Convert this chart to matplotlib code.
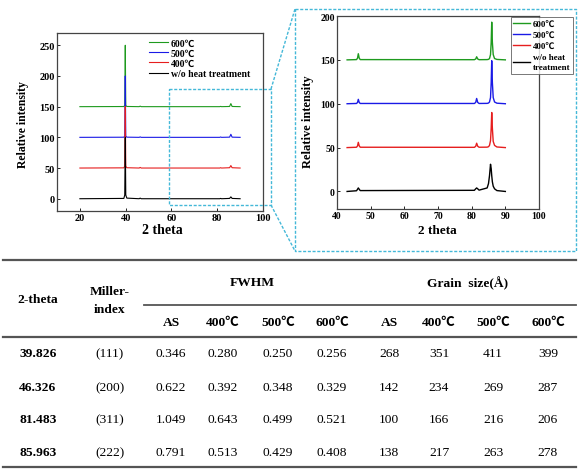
import matplotlib
matplotlib.use("Agg")
import matplotlib.pyplot as plt
from matplotlib.lines import Line2D

plt.rcParams['font.family'] = ['Liberation Serif', 'Noto Sans CJK SC', 'DejaVu Sans']
plt.rcParams['mathtext.fontset'] = 'stix'

# ---------------- data ----------------
labels = ['600℃', '500℃', '400℃', 'w/o heat treatment']
labels_zoom = ['600℃', '500℃', '400℃', 'w/o heat\ntreatment']
colors = ['#1e9a1e', '#1a1ae6', '#e61e1e', '#000000']

# full-range pattern
x_full = [20, 39.2, 39.6, 39.83, 40.05, 40.5, 45.9, 46.33, 46.8,
          81.1, 81.48, 81.9, 85.4, 85.96, 86.5, 90]
y_600_full = [150, 150.2, 152, 250, 152, 150.3, 150, 150.8, 150,
              150, 150.4, 150, 150.3, 155, 150.3, 150]
y_500_full = [100, 100.2, 102, 200, 102, 100.3, 100, 100.7, 100,
              100, 100.6, 100, 100.3, 105, 100.3, 100]
y_400_full = [50, 50.3, 53, 150, 53, 50.5, 50, 51, 50,
              50, 50.5, 50, 50.5, 54, 50.5, 50]
y_as_full = [0, 0.5, 6, 100, 6, 1, 0, 1, 0,
             0, 0.5, 0, 0.5, 3, 0.5, 0]

# zoomed pattern 43-90 deg
x_zoom = [43, 45.8, 46.1, 46.33, 46.6, 46.9, 80.8, 81.2, 81.48, 81.8, 82.2,
          84.6, 85.0, 85.3, 85.6, 85.8, 85.96, 86.15, 86.4, 86.8, 87.5, 90]
y_600_zoom = [150, 150.3, 152, 157, 152, 150.3, 150.2, 151, 153.5, 151, 150.2,
              150.3, 150.6, 151.5, 156, 170, 193, 170, 156, 151.5, 150.5, 150]
y_500_zoom = [100, 100.3, 101.5, 105, 101.5, 100.3, 100.3, 101.5, 106, 101.5, 100.3,
              100.4, 100.8, 102, 107, 124, 149, 124, 107, 102, 100.6, 100]
y_400_zoom = [50, 50.4, 52, 56, 52, 50.4, 50.3, 51.5, 55, 51.5, 50.4,
              50.5, 51, 52.5, 58, 72, 90, 72, 57, 52.5, 50.7, 50]
y_as_zoom = [0, 0.8, 2.5, 4, 2.5, 1, 1.3, 3, 4, 3, 1.5,
             4, 9, 18, 31, 26, 18, 11, 6, 3, 1, 0]

# table
theta_col = ['39.826', '46.326', '81.483', '85.963']
miller_col = ['(111)', '(200)', '(311)', '(222)']
fwhm_as = ['0.346', '0.622', '1.049', '0.791']
fwhm_400 = ['0.280', '0.392', '0.643', '0.513']
fwhm_500 = ['0.250', '0.348', '0.499', '0.429']
fwhm_600 = ['0.256', '0.329', '0.521', '0.408']
grain_as = ['268', '142', '100', '138']
grain_400 = ['351', '234', '166', '217']
grain_500 = ['411', '269', '216', '263']
grain_600 = ['399', '287', '206', '278']
sub_headers = ['AS', '400℃', '500℃', '600℃', 'AS', '400℃', '500℃', '600℃']

# ---------------- figure ----------------
W, H = 586, 477
fig = plt.figure(figsize=(W / 100, H / 100), dpi=100)

def fx(px):
    return px / W

def fy(py):
    return 1 - py / H

def style_axes(ax, tick_size):
    for s in ax.spines.values():
        s.set_color('#444444')
        s.set_linewidth(0.9)
    ax.tick_params(direction='in', length=2, width=0.6, labelsize=tick_size, pad=1.5)
    for lab in ax.get_xticklabels() + ax.get_yticklabels():
        lab.set_fontweight('bold')

# left panel
ax1 = fig.add_axes([fx(57), fy(212), fx(206), 178 / H])
series_full = [y_600_full, y_500_full, y_400_full, y_as_full]
for ys, c, lab in zip(series_full, colors, labels):
    ax1.plot(x_full, ys, color=c, lw=0.8, label=lab)
ax1.set_xlim(10, 100)
ax1.set_ylim(-20, 270)
ax1.set_xticks([20, 40, 60, 80, 100])
ax1.set_yticks([0, 50, 100, 150, 200, 250])
style_axes(ax1, 7.5)
ax1.set_xlabel('2 theta', fontsize=10, fontweight='bold')
ax1.set_ylabel('Relative intensity', fontsize=8.5, fontweight='bold')
ax1.xaxis.set_label_coords((162 - 57) / 206, (212 - 231) / 178)
ax1.xaxis.label.set_va('center')
ax1.yaxis.set_label_coords((23 - 57) / 206, (212 - 125) / 178)
ax1.yaxis.label.set_va('center')
leg1 = ax1.legend(loc='upper left', bbox_to_anchor=(fx(149), fy(39.5)),
                  bbox_transform=fig.transFigure, frameon=False,
                  prop={'size': 7, 'weight': 'bold'}, handlelength=2.0,
                  handletextpad=0.25, labelspacing=0.12, borderpad=0, borderaxespad=0)

# right panel
ax2 = fig.add_axes([fx(337), fy(210), fx(202), 193 / H])
series_zoom = [y_600_zoom, y_500_zoom, y_400_zoom, y_as_zoom]
for ys, c, lab in zip(series_zoom, colors, labels_zoom):
    ax2.plot(x_zoom, ys, color=c, lw=1.0, label=lab)
ax2.set_xlim(40, 100)
ax2.set_ylim(-20, 200)
ax2.set_xticks([40, 50, 60, 70, 80, 90, 100])
ax2.set_yticks([0, 50, 100, 150, 200])
style_axes(ax2, 7)
ax2.set_xlabel('2 theta', fontsize=9.5, fontweight='bold')
ax2.set_ylabel('Relative intensity', fontsize=9, fontweight='bold')
ax2.xaxis.set_label_coords((437 - 337) / 202, (210 - 231) / 193)
ax2.xaxis.label.set_va('center')
ax2.yaxis.set_label_coords((308 - 337) / 202, (210 - 122) / 193)
ax2.yaxis.label.set_va('center')
leg2 = ax2.legend(loc='upper right', bbox_to_anchor=(fx(573), fy(18)),
                  bbox_transform=fig.transFigure, frameon=True, fancybox=False,
                  prop={'size': 6.5, 'weight': 'bold'}, handlelength=1.9,
                  handletextpad=0.25, labelspacing=0.3, borderpad=0.3, borderaxespad=0)
leg2.get_frame().set_edgecolor('#555555')
leg2.get_frame().set_linewidth(0.7)
for t in leg2.get_texts():
    t.set_linespacing(1.45)

# dashed cyan zoom indicator
cyan = '#44b8d8'
dash = (0, (2.2, 1.2))
def fline(xs, ys, **kw):
    fig.add_artist(Line2D([fx(v) for v in xs], [fy(v) for v in ys],
                          transform=fig.transFigure, **kw))

small = (169, 90, 271, 206)
big = (295, 10, 576, 252)
for (x0, y0, x1, y1) in (small, big):
    fline([x0, x1, x1, x0, x0], [y0, y0, y1, y1, y0], color=cyan, lw=1.0, linestyle=dash)
fline([small[2], big[0]], [small[1], big[1]], color=cyan, lw=1.0, linestyle=dash)
fline([small[2], big[0]], [small[3], big[3]], color=cyan, lw=1.0, linestyle=dash)

# ---------------- table ----------------
line_c = '#555555'
fline([3, 576], [261, 261], color=line_c, lw=1.6)
fline([144, 576], [306, 306], color=line_c, lw=1.3)
fline([3, 576], [338, 338], color=line_c, lw=1.6)
fline([3, 576], [468, 468], color=line_c, lw=1.6)

tsize = 9.7
col_x = [38, 110, 171, 223, 278, 332, 389, 439, 493, 548]
row_y = [354, 388, 420, 453]

def ftext(x, y, s, bold=False, size=tsize):
    fig.text(fx(x), fy(y), s, ha='center', va='center', fontsize=size,
             fontweight='bold' if bold else 'normal')

ftext(38, 300, '2-theta', bold=True)
ftext(110, 292, 'Miller-', bold=True)
ftext(110, 310, 'index', bold=True)
ftext(252, 283, 'FWHM', bold=True)
ftext(468, 283, 'Grain  size(Å)', bold=True)
for cx, h in zip(col_x[2:], sub_headers):
    ftext(cx, 323, h, bold=True)

columns = [theta_col, miller_col, fwhm_as, fwhm_400, fwhm_500, fwhm_600,
           grain_as, grain_400, grain_500, grain_600]
for ci, (cx, col) in enumerate(zip(col_x, columns)):
    for ry, val in zip(row_y, col):
        ftext(cx, ry, val, bold=(ci == 0))

fig.savefig('out.png', dpi=100)
